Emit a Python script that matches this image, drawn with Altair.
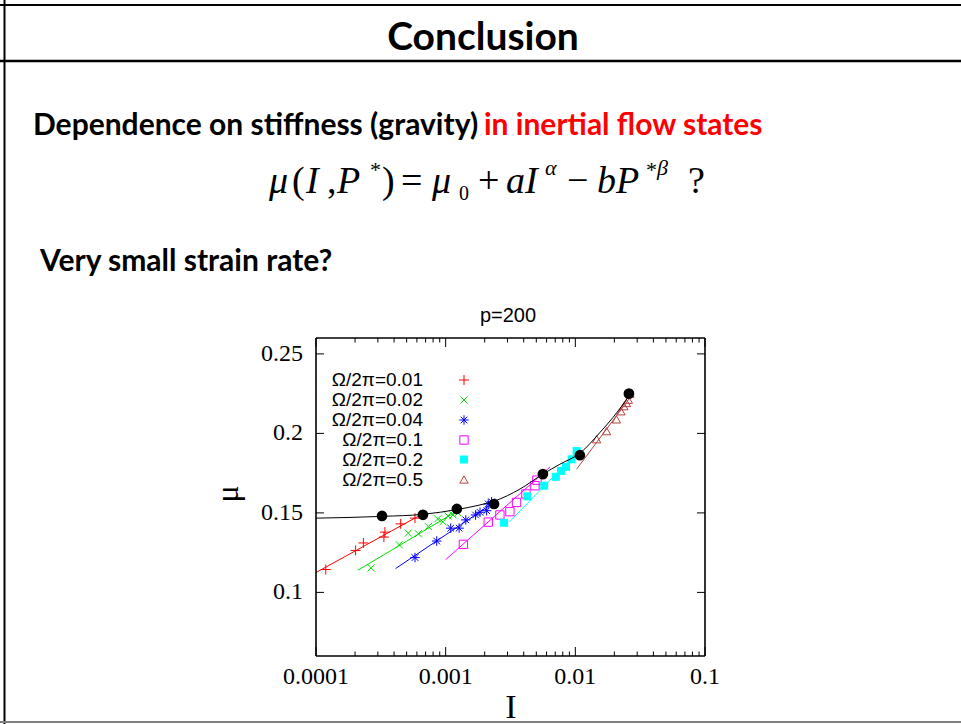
import altair as alt
import pandas as pd

# ---------------- data ----------------
curve_I = [1e-4, 3.23e-4, 6.68e-4, 1.24e-3, 1.84e-3, 2.39e-3, 3.74e-3, 5.62e-3, 7.6e-3, 1.084e-2, 1.549e-2, 1.95e-2, 2.64e-2]
curve_mu = [0.1467, 0.1478, 0.1491, 0.1522, 0.1550, 0.1575, 0.1650, 0.1744, 0.1806, 0.1875, 0.2006, 0.2100, 0.2244]

dots_I = [3.23e-4, 6.68e-4, 1.22e-3, 2.36e-3, 5.62e-3, 1.084e-2, 2.59e-2]
dots_mu = [0.1481, 0.1488, 0.1525, 0.1556, 0.1744, 0.1863, 0.2250]

labels = ["Ω/2π=0.01", "Ω/2π=0.02", "Ω/2π=0.04", "Ω/2π=0.1", "Ω/2π=0.2", "Ω/2π=0.5"]
colors = ["#ff0000", "#00dd00", "#0000ff", "#ff00ff", "#00ffff", "#b84040"]

pts_I = [
    [1.19e-4, 2.02e-4, 2.32e-4, 3.34e-4, 3.40e-4, 4.50e-4, 5.80e-4],
    [2.66e-4, 4.38e-4, 5.15e-4, 6.15e-4, 7.35e-4, 8.68e-4, 9.53e-4, 1.042e-3, 1.14e-3, 1.245e-3],
    [5.8e-4, 8.53e-4, 1.094e-3, 1.27e-3, 1.43e-3, 1.70e-3, 1.84e-3, 2.07e-3, 2.13e-3, 2.26e-3],
    [1.37e-3, 2.13e-3, 2.62e-3, 3.13e-3, 3.52e-3, 4.16e-3, 4.88e-3, 5.06e-3],
    [2.82e-3, 4.26e-3, 5.75e-3, 7.08e-3, 7.74e-3, 8.47e-3, 9.36e-3, 1.023e-2],
    [0.01459, 0.01742, 0.02074, 0.02248, 0.0237, 0.02477, 0.02559, 0.02636],
]
pts_mu = [
    [0.1144, 0.1264, 0.1311, 0.1348, 0.1379, 0.1431, 0.1467],
    [0.1154, 0.1300, 0.1373, 0.1369, 0.1414, 0.1462, 0.1444, 0.1481, 0.1487, 0.1500],
    [0.1219, 0.1323, 0.1404, 0.1404, 0.1456, 0.1487, 0.1504, 0.1514, 0.1556, 0.1570],
    [0.1302, 0.1442, 0.1487, 0.1508, 0.1566, 0.1619, 0.1671, 0.1706],
    [0.1438, 0.1604, 0.1671, 0.1727, 0.1764, 0.1789, 0.1837, 0.1889],
    [0.1963, 0.2014, 0.2088, 0.2139, 0.2171, 0.2191, 0.2212, 0.2250],
]
fit_I = [[1e-4, 6.5e-4], [2.1e-4, 1.33e-3], [4.11e-4, 2.47e-3], [1.0e-3, 6.37e-3], [3.09e-3, 1.084e-2], [1.023e-2, 2.64e-2]]
fit_mu = [[0.1125, 0.1490], [0.1139, 0.1529], [0.1150, 0.1577], [0.1206, 0.1788], [0.1442, 0.1900], [0.1775, 0.2225]]

x_major = [1e-4, 1e-3, 1e-2, 1e-1]
x_major_labels = ["0.0001", "0.001", "0.01", "0.1"]
x_minor = [k * 10.0 ** e for e in (-4, -3, -2) for k in range(2, 10)]
y_major = [0.1, 0.15, 0.2, 0.25]
y_major_labels = ["0.1", "0.15", "0.2", "0.25"]

# ---------------- styles ----------------
PLUS = "M-1,0L1,0M0,-1L0,1"
CROSS = "M-0.75,-0.75L0.75,0.75M-0.75,0.75L0.75,-0.75"
STAR = "M-1,0L1,0M0,-1L0,1M-0.7,-0.7L0.7,0.7M-0.7,0.7L0.7,-0.7"
shapes = [PLUS, CROSS, STAR, "square", "square", "triangle-up"]
filled = [False, False, False, False, True, False]
sizes = [100, 90, 90, 70, 64, 70]

OX, OY = 316, 338
W, H = 389, 318
SERIF = "Liberation Serif"
SANS = "Liberation Sans"
SLIDE = "Lato"

xs = alt.Scale(type="log", domain=[1e-4, 0.1])
ys = alt.Scale(domain=[0.06, 0.26])

layers = []

# fit lines
for i in range(6):
    df = pd.DataFrame({"I": fit_I[i], "mu": fit_mu[i]})
    layers.append(alt.Chart(df).mark_line(color=colors[i], strokeWidth=1).encode(
        x=alt.X("I:Q", scale=xs, axis=None), y=alt.Y("mu:Q", scale=ys, axis=None)))

# points
for i in range(6):
    df = pd.DataFrame({"I": pts_I[i], "mu": pts_mu[i]})
    mk = dict(shape=shapes[i], size=sizes[i], strokeWidth=1, opacity=1, filled=filled[i], color=colors[i])
    layers.append(alt.Chart(df).mark_point(**mk).encode(
        x=alt.X("I:Q", scale=xs, axis=None), y=alt.Y("mu:Q", scale=ys, axis=None)))

# black curve & dots
curve_df = pd.DataFrame({"I": curve_I, "mu": curve_mu})
layers.append(alt.Chart(curve_df).mark_line(color="black", strokeWidth=1, interpolate="monotone").encode(
    x=alt.X("I:Q", scale=xs, axis=None), y=alt.Y("mu:Q", scale=ys, axis=None)))
dots_df = pd.DataFrame({"I": dots_I, "mu": dots_mu})
layers.append(alt.Chart(dots_df).mark_circle(color="black", size=115, opacity=1).encode(
    x=alt.X("I:Q", scale=xs, axis=None), y=alt.Y("mu:Q", scale=ys, axis=None)))

# gnuplot style inward ticks
xmaj_df = pd.DataFrame({"v": x_major, "lab": x_major_labels})
xmin_df = pd.DataFrame({"v": x_minor})
ymaj_df = pd.DataFrame({"v": y_major, "lab": y_major_labels})
for df, ln in ((xmaj_df, 9), (xmin_df, 4.5)):
    layers.append(alt.Chart(df).mark_rule(color="black", strokeWidth=1).encode(
        x=alt.X("v:Q", scale=xs, axis=None), y=alt.value(H), y2=alt.value(H - ln)))
    layers.append(alt.Chart(df).mark_rule(color="black", strokeWidth=1).encode(
        x=alt.X("v:Q", scale=xs, axis=None), y=alt.value(0), y2=alt.value(ln)))
layers.append(alt.Chart(ymaj_df).mark_rule(color="black", strokeWidth=1).encode(
    y=alt.Y("v:Q", scale=ys, axis=None), x=alt.value(0), x2=alt.value(8)))
layers.append(alt.Chart(ymaj_df).mark_rule(color="black", strokeWidth=1).encode(
    y=alt.Y("v:Q", scale=ys, axis=None), x=alt.value(W), x2=alt.value(W - 8)))

# plot frame
one = pd.DataFrame({"a": [0]})
for enc in (dict(x=alt.value(0), x2=alt.value(W), y=alt.value(0)),
            dict(x=alt.value(0), x2=alt.value(W), y=alt.value(H)),
            dict(x=alt.value(0), y=alt.value(0), y2=alt.value(H)),
            dict(x=alt.value(W), y=alt.value(0), y2=alt.value(H))):
    layers.append(alt.Chart(one).mark_rule(color="black", strokeWidth=1.6).encode(**enc))

# tick labels
layers.append(alt.Chart(xmaj_df).mark_text(font=SERIF, fontSize=24, align="center", baseline="alphabetic",
                                           color="black").encode(
    x=alt.X("v:Q", scale=xs, axis=None), y=alt.value(684 - OY), text="lab:N"))
layers.append(alt.Chart(ymaj_df).mark_text(font=SERIF, fontSize=24, align="right", baseline="middle",
                                           color="black").encode(
    y=alt.Y("v:Q", scale=ys, axis=None), x=alt.value(303 - OX), text="lab:N"))

# legend (gnuplot style: label then symbol)
row_y = [380, 400, 420, 440, 459.5, 479.5]
for i in range(6):
    layers.append(alt.Chart(pd.DataFrame({"t": [labels[i]]})).mark_text(
        font=SANS, fontSize=19, align="right", baseline="middle", color="black").encode(
        text="t:N", x=alt.value(423 - OX), y=alt.value(row_y[i] - OY)))
    mk = dict(shape=shapes[i], size=sizes[i], strokeWidth=1, opacity=1, filled=filled[i], color=colors[i])
    layers.append(alt.Chart(pd.DataFrame({"t": [labels[i]]})).mark_point(**mk).encode(
        x=alt.value(464 - OX), y=alt.value(row_y[i] - OY)))


def txt(s, x, y, **kw):
    base = dict(align="left", baseline="alphabetic", color="black")
    base.update(kw)
    return alt.Chart(pd.DataFrame({"t": [s]})).mark_text(**base).encode(
        text="t:N", x=alt.value(x - OX), y=alt.value(y - OY))


# axis titles and plot title
layers.append(txt("p=200", 508, 322, font=SANS, fontSize=20, align="center"))
layers.append(txt("I", 511, 718, font=SERIF, fontSize=34, align="center"))
layers.append(txt("μ", 228, 494, font=SERIF, fontSize=32, align="center", baseline="middle", angle=270))

# slide texts
layers.append(txt("Conclusion", 483, 50, font=SLIDE, fontSize=39, fontWeight="bold", align="center"))
layers.append(txt("Dependence on stiffness (gravity)", 33, 135, font=SLIDE, fontSize=30, fontWeight="bold"))
layers.append(txt("in inertial flow states", 484, 135, font=SLIDE, fontSize=30, fontWeight="bold", color="#ff0000"))
layers.append(txt("Very small strain rate?", 40, 271, font=SLIDE, fontSize=30, fontWeight="bold"))

# formula pieces: (text, x, baseline y, size, italic)
formula = [
    ("μ", 269, 193, 38, True), ("(", 292, 193, 38, False), ("I", 306, 193, 38, True), (",", 327, 193, 38, False),
    ("P", 337, 193, 38, True), ("*", 370, 177, 22, False), (")", 382, 193, 38, False), ("=", 401, 193, 38, False),
    ("μ", 432, 193, 38, True), ("0", 459, 200, 20, False), ("+", 478, 193, 38, False), ("a", 506, 193, 38, True),
    ("I", 525, 193, 38, True), ("α", 545, 175, 22, True), ("−", 567, 193, 38, False), ("b", 597, 193, 38, True),
    ("P", 616, 193, 38, True), ("*", 646, 177, 22, False), ("β", 657, 175, 22, True), ("?", 688, 193, 38, False),
]
for s, x, y, sz, it in formula:
    kw = dict(font=SERIF, fontSize=sz)
    if it:
        kw["fontStyle"] = "italic"
    layers.append(txt(s, x, y, **kw))

# slide borders
layers.append(alt.Chart(one).mark_rule(color="black", strokeWidth=2).encode(
    x=alt.value(-OX), x2=alt.value(961 - OX), y=alt.value(5 - OY)))
layers.append(alt.Chart(one).mark_rule(color="black", strokeWidth=2.5).encode(
    x=alt.value(-OX), x2=alt.value(961 - OX), y=alt.value(61 - OY)))
layers.append(alt.Chart(one).mark_rule(color="black", strokeWidth=2).encode(
    x=alt.value(4.5 - OX), y=alt.value(-OY), y2=alt.value(724 - OY)))
layers.append(alt.Chart(one).mark_rule(color="#808080", strokeWidth=2).encode(
    x=alt.value(-OX), x2=alt.value(961 - OX), y=alt.value(722 - OY)))

chart = alt.layer(*layers).properties(
    width=W, height=H,
    padding={"left": OX, "top": OY, "right": 961 - OX - W, "bottom": 724 - OY - H},
    autosize=alt.AutoSizeParams(type="none"),
    background="white",
).configure_view(stroke=None)

chart.save("out.html", embed_options={"renderer": "svg", "actions": False})
